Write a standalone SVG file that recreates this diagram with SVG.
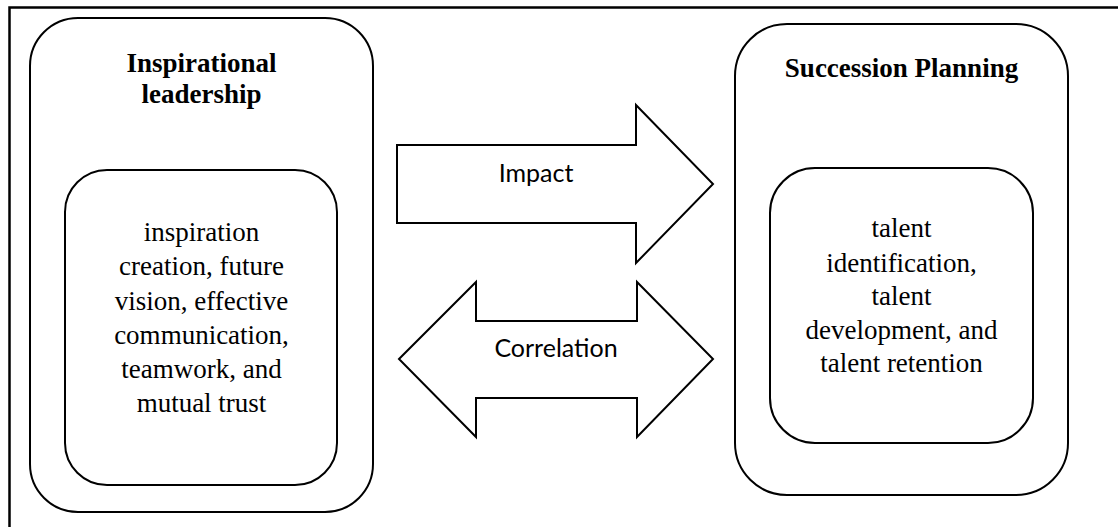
<svg xmlns="http://www.w3.org/2000/svg" width="1118" height="527" viewBox="0 0 1118 527">
<style>
.box{fill:none;stroke:#000;stroke-width:2}
.arrow{fill:#fff;stroke:#000;stroke-width:2;stroke-linejoin:miter}
.title{font-family:"Liberation Serif","Times New Roman",serif;font-weight:bold;font-size:27px;text-anchor:middle;fill:#000}
.body{font-family:"Liberation Serif","Times New Roman",serif;font-size:27px;text-anchor:middle;fill:#000}
.lbl{font-family:Lato,"Open Sans",sans-serif;font-size:25px;text-anchor:middle;fill:#000}
</style>
<rect width="1118" height="527" fill="#fff"/>
<path d="M9.5,527 V7.5 H1118" fill="none" stroke="#000" stroke-width="2.5"/>
<g id="inspirational-leadership">
<rect class="box" x="30" y="18" width="343" height="494" rx="48" ry="48"/>
<text class="title" x="201.5" y="72">Inspirational</text>
<text class="title" x="201.5" y="103">leadership</text>
</g>
<g id="il-dimensions">
<rect class="box" x="65" y="170" width="272" height="315" rx="42" ry="42"/>
<text class="body" x="201.5" y="241">inspiration</text>
<text class="body" x="201.5" y="275">creation, future</text>
<text class="body" x="201.5" y="310">vision, effective</text>
<text class="body" x="201.5" y="344">communication,</text>
<text class="body" x="201.5" y="378">teamwork, and</text>
<text class="body" x="201.5" y="412">mutual trust</text>
</g>
<g id="succession-planning">
<rect class="box" x="735" y="24" width="333" height="471" rx="52" ry="52"/>
<text class="title" x="901.5" y="77">Succession Planning</text>
</g>
<g id="sp-dimensions">
<rect class="box" x="770" y="168" width="263" height="275" rx="45" ry="45"/>
<text class="body" x="901.5" y="237">talent</text>
<text class="body" x="901.5" y="272">identification,</text>
<text class="body" x="901.5" y="305">talent</text>
<text class="body" x="901.5" y="339">development, and</text>
<text class="body" x="901.5" y="372">talent retention</text>
</g>
<g id="connectors">
<g id="impact">
<path class="arrow" d="M397,145 H636 V105 L713,184 L636,263 V223 H397 Z"/>
<text class="lbl" x="536" y="182">Impact</text>
</g>
<g id="correlation">
<path class="arrow" d="M399,359 L476,282 V321 H637 V282 L713,359 L637,437 V398 H476 V437 Z"/>
<text class="lbl" x="556" y="357">Correlation</text>
</g>
</g>
</svg>
